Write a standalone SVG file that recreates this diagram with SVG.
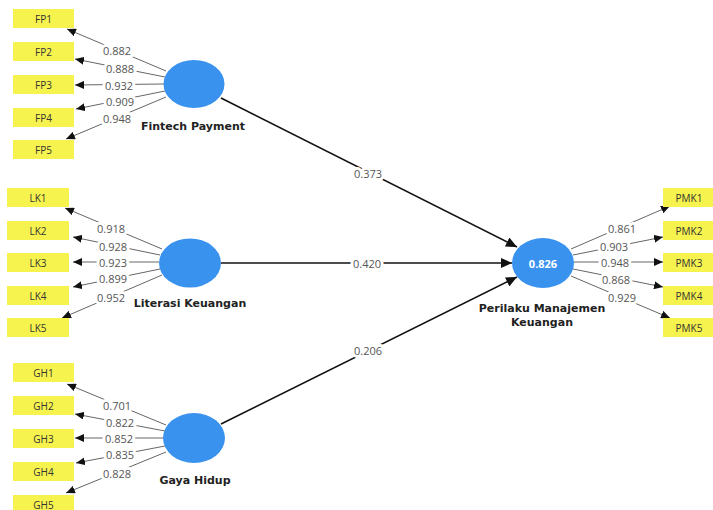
<svg xmlns="http://www.w3.org/2000/svg" width="713" height="510" viewBox="0 0 713 510">
<defs>
<style>
.box{fill:#f7f34e;}
.bt{font-family:"Open Sans","DejaVu Sans",sans-serif;font-size:10px;fill:#333;text-anchor:middle;dominant-baseline:central;}
.lv{fill:#3a92ef;}
.ln{font-family:"DejaVu Sans","Open Sans",sans-serif;font-size:11px;font-weight:bold;fill:#222;text-anchor:middle;}
.ld{stroke:#666;stroke-width:1;fill:none;marker-end:url(#ah);}
.st{stroke:#111;stroke-width:1.6;fill:none;marker-end:url(#ahb);}
.num{font-family:"Open Sans","Noto Sans",sans-serif;font-size:11px;fill:#555;text-anchor:middle;dominant-baseline:central;stroke:#fff;stroke-width:6;paint-order:stroke;stroke-linejoin:round;}
.r2{font-family:"Open Sans","Noto Sans",sans-serif;font-size:11px;font-weight:bold;fill:#fff;text-anchor:middle;dominant-baseline:central;}
</style>
<marker id="ah" markerUnits="userSpaceOnUse" markerWidth="10" markerHeight="8" refX="9" refY="4" orient="auto"><path d="M0,0 L9,4 L0,8 z" fill="#111"/></marker>
<marker id="ahb" markerUnits="userSpaceOnUse" markerWidth="12" markerHeight="10" refX="11" refY="5" orient="auto"><path d="M0,0 L11,5 L0,10 z" fill="#111"/></marker>
</defs>
<rect width="713" height="510" fill="#fff"/>

<g id="connectors">
<path class="ld" d="M166,71 L67,29"/>
<path class="ld" d="M165,77 L75,59"/>
<path class="ld" d="M164,84 L75,85"/>
<path class="ld" d="M165,91 L76,109"/>
<path class="ld" d="M166,97 L66,139"/>
<path class="ld" d="M162,249 L65,208"/>
<path class="ld" d="M160,255 L73,237"/>
<path class="ld" d="M159,262 L73,262"/>
<path class="ld" d="M160,269 L73,287"/>
<path class="ld" d="M162,275 L62,318"/>
<path class="ld" d="M166,425 L67,384"/>
<path class="ld" d="M165,431 L75,414"/>
<path class="ld" d="M164,438 L75,438"/>
<path class="ld" d="M165,446 L76,463"/>
<path class="ld" d="M166,452 L66,493"/>
<path class="ld" d="M571,249 L670,206"/>
<path class="ld" d="M573,255 L663,237"/>
<path class="ld" d="M574,262 L663,262"/>
<path class="ld" d="M573,269 L663,287"/>
<path class="ld" d="M571,276 L670,318"/>
<path class="st" d="M221,98 L517,247"/>
<path class="st" d="M221,263 L512,263"/>
<path class="st" d="M221,424 L517,277"/>
<text class="num" x="117" y="50">0.882</text>
<text class="num" x="120" y="68">0.888</text>
<text class="num" x="119" y="85">0.932</text>
<text class="num" x="120" y="101">0.909</text>
<text class="num" x="117" y="118">0.948</text>
<text class="num" x="111" y="228">0.918</text>
<text class="num" x="113" y="246">0.928</text>
<text class="num" x="113" y="262">0.923</text>
<text class="num" x="113" y="278">0.899</text>
<text class="num" x="111" y="297">0.952</text>
<text class="num" x="117" y="405">0.701</text>
<text class="num" x="120" y="422">0.822</text>
<text class="num" x="119" y="438">0.852</text>
<text class="num" x="120" y="454">0.835</text>
<text class="num" x="117" y="473">0.828</text>
<text class="num" x="622" y="228">0.861</text>
<text class="num" x="614" y="246">0.903</text>
<text class="num" x="615" y="262">0.948</text>
<text class="num" x="616" y="279">0.868</text>
<text class="num" x="622" y="297">0.929</text>
<text class="num" x="368" y="173">0.373</text>
<text class="num" x="367" y="263">0.420</text>
<text class="num" x="368" y="350">0.206</text>
</g>

<g id="FP1"><rect class="box" x="13" y="9" width="61" height="19"/><text class="bt" x="43.5" y="18.5">FP1</text></g>
<g id="FP2"><rect class="box" x="13" y="42" width="61" height="19"/><text class="bt" x="43.5" y="51.5">FP2</text></g>
<g id="FP3"><rect class="box" x="13" y="75" width="61" height="19"/><text class="bt" x="43.5" y="84.5">FP3</text></g>
<g id="FP4"><rect class="box" x="13" y="108" width="61" height="19"/><text class="bt" x="43.5" y="117.5">FP4</text></g>
<g id="FP5"><rect class="box" x="13" y="140" width="61" height="19"/><text class="bt" x="43.5" y="149.5">FP5</text></g>

<g id="LK1"><rect class="box" x="7" y="188" width="62" height="19"/><text class="bt" x="38" y="197.5">LK1</text></g>
<g id="LK2"><rect class="box" x="7" y="221" width="62" height="19"/><text class="bt" x="38" y="230.5">LK2</text></g>
<g id="LK3"><rect class="box" x="7" y="253" width="62" height="19"/><text class="bt" x="38" y="262.5">LK3</text></g>
<g id="LK4"><rect class="box" x="7" y="286" width="62" height="19"/><text class="bt" x="38" y="295.5">LK4</text></g>
<g id="LK5"><rect class="box" x="7" y="318" width="62" height="19"/><text class="bt" x="38" y="327.5">LK5</text></g>

<g id="GH1"><rect class="box" x="13" y="363" width="61" height="19"/><text class="bt" x="43.5" y="372.5">GH1</text></g>
<g id="GH2"><rect class="box" x="13" y="396" width="61" height="19"/><text class="bt" x="43.5" y="405.5">GH2</text></g>
<g id="GH3"><rect class="box" x="13" y="429" width="61" height="19"/><text class="bt" x="43.5" y="438.5">GH3</text></g>
<g id="GH4"><rect class="box" x="13" y="462" width="61" height="19"/><text class="bt" x="43.5" y="471.5">GH4</text></g>
<g id="GH5"><rect class="box" x="13" y="495" width="61" height="19"/><text class="bt" x="43.5" y="504.5">GH5</text></g>

<g id="PMK1"><rect class="box" x="663" y="188" width="52" height="19"/><text class="bt" x="689" y="197.5">PMK1</text></g>
<g id="PMK2"><rect class="box" x="663" y="221" width="52" height="19"/><text class="bt" x="689" y="230.5">PMK2</text></g>
<g id="PMK3"><rect class="box" x="663" y="253" width="52" height="19"/><text class="bt" x="689" y="262.5">PMK3</text></g>
<g id="PMK4"><rect class="box" x="663" y="286" width="52" height="19"/><text class="bt" x="689" y="295.5">PMK4</text></g>
<g id="PMK5"><rect class="box" x="663" y="318" width="52" height="19"/><text class="bt" x="689" y="327.5">PMK5</text></g>

<g id="FintechPayment"><ellipse class="lv" cx="194" cy="84" rx="30.5" ry="24"/><text class="ln" x="193" y="130">Fintech Payment</text></g>
<g id="LiterasiKeuangan"><ellipse class="lv" cx="190" cy="263" rx="31" ry="24.5"/><text class="ln" x="190" y="307">Literasi Keuangan</text></g>
<g id="GayaHidup"><ellipse class="lv" cx="194" cy="438" rx="31" ry="25"/><text class="ln" x="195" y="484">Gaya Hidup</text></g>
<g id="PerilakuManajemenKeuangan"><ellipse class="lv" cx="543" cy="263" rx="31" ry="25"/><text class="r2" x="543" y="263">0.826</text><text class="ln" x="542" y="312">Perilaku Manajemen</text><text class="ln" x="542" y="326">Keuangan</text></g>
</svg>
